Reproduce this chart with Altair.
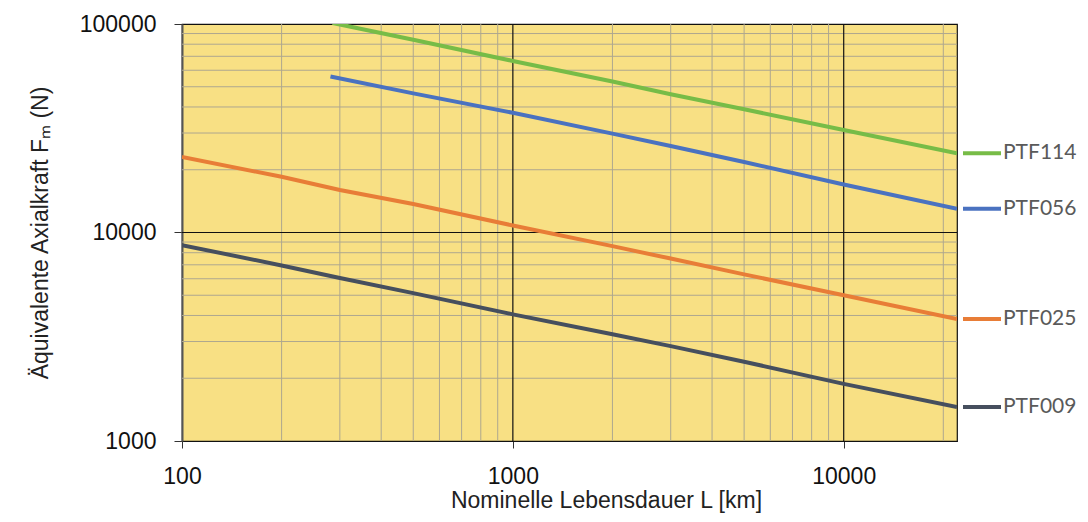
import altair as alt
import pandas as pd

# ---- data ----
series_names = ["PTF114", "PTF056", "PTF025", "PTF009"]
series_colors = ["#77BC47", "#4A72C0", "#E87D37", "#464F5E"]

L_114 = [285, 300, 500, 1000, 2000, 3000, 5000, 10000, 22000]
F_114 = [101000, 99500, 84000, 66500, 53000, 46000, 39000, 31000, 24000]

L_056 = [281, 500, 1000, 2000, 3000, 5000, 10000, 22000]
F_056 = [56000, 46500, 37500, 29800, 26000, 21800, 17000, 13000]

L_025 = [100, 200, 300, 500, 1000, 2000, 3000, 5000, 10000, 22000]
F_025 = [23000, 18500, 16000, 13700, 10800, 8600, 7500, 6300, 5000, 3850]

L_009 = [100, 200, 300, 500, 1000, 2000, 3000, 5000, 10000, 22000]
F_009 = [8700, 6950, 6050, 5120, 4050, 3250, 2850, 2400, 1880, 1455]

x_ticks = [100, 1000, 10000]
y_ticks = [1000, 10000, 100000]
x_minor = [200, 300, 400, 500, 600, 700, 800, 900,
           2000, 3000, 4000, 5000, 6000, 7000, 8000, 9000, 20000]
y_minor = [2000, 3000, 4000, 5000, 6000, 7000, 8000, 9000,
           20000, 30000, 40000, 50000, 60000, 70000, 80000, 90000]
x_major_grid = [1000, 10000]
y_major_grid = [10000]

x_domain = [100, 22000]
y_domain = [1000, 100000]

# ---- tables ----
rows = []
for name, Ls, Fs in zip(series_names, [L_114, L_056, L_025, L_009],
                        [F_114, F_056, F_025, F_009]):
    for l, f in zip(Ls, Fs):
        rows.append({"series": name, "L": l, "F": f})
df = pd.DataFrame(rows)
last = df.groupby("series", sort=False).tail(1).reset_index(drop=True)

W, H = 775, 417
xs = alt.Scale(type="log", domain=x_domain, nice=False)
ys = alt.Scale(type="log", domain=y_domain, nice=False)
cs = alt.Scale(domain=series_names, range=series_colors)

GRID = "#aea78f"

grid_minor_x = alt.Chart(pd.DataFrame({"L": x_minor})).mark_rule(
    color=GRID, strokeWidth=1).encode(x=alt.X("L:Q", scale=xs))
grid_minor_y = alt.Chart(pd.DataFrame({"F": y_minor})).mark_rule(
    color=GRID, strokeWidth=1).encode(y=alt.Y("F:Q", scale=ys))
grid_major_x = alt.Chart(pd.DataFrame({"L": x_major_grid})).mark_rule(
    color="#111111", strokeWidth=1.2).encode(x=alt.X("L:Q", scale=xs))
grid_major_y = alt.Chart(pd.DataFrame({"F": y_major_grid})).mark_rule(
    color="#111111", strokeWidth=1.2).encode(y=alt.Y("F:Q", scale=ys))

lines = alt.Chart(df).mark_line(strokeWidth=4, clip=True).encode(
    x=alt.X("L:Q", scale=xs, axis=alt.Axis(
        values=x_ticks, format="d", grid=False, labelFlush=False,
        title="Nominelle Lebensdauer L [km]",
        titleX=424, titleY=66, titleAlign="center", titleBaseline="alphabetic",
        tickSize=7, labelPadding=17, domainColor="#111111", tickColor="#333333")),
    y=alt.Y("F:Q", scale=ys, axis=alt.Axis(
        values=y_ticks, format="d", grid=False, labelFlush=False,
        title="Äquivalente Axialkraft Fₘ (N)",
        titleX=-135, titleY=H / 2, titleAlign="center", titleBaseline="alphabetic",
        tickSize=8, labelPadding=18, domainColor="#555555", domainWidth=2,
        tickColor="#333333")),
    color=alt.Color("series:N", scale=cs, legend=None),
    detail="series:N",
)

legend_lines = alt.Chart(last).mark_rule(
    strokeWidth=4, xOffset=6, x2Offset=44).encode(
    x=alt.X("L:Q", scale=xs),
    x2="L:Q",
    y=alt.Y("F:Q", scale=ys),
    color=alt.Color("series:N", scale=cs, legend=None),
)

legend_text = alt.Chart(last).mark_text(
    align="left", baseline="middle", dx=46, font="Lato", fontSize=21,
    color="#5a5a5a").encode(
    x=alt.X("L:Q", scale=xs),
    y=alt.Y("F:Q", scale=ys),
    text="series:N",
)

chart = alt.layer(
    grid_minor_x, grid_minor_y, grid_major_x, grid_major_y,
    lines, legend_lines, legend_text
).properties(
    width=W, height=H,
    autosize=alt.AutoSizeParams(type="none"),
    padding={"left": 174, "top": 16, "right": 122, "bottom": 73},
).configure_view(
    fill="#F8E084", stroke="#111111", strokeWidth=1.2
).configure_axis(
    labelFont="Liberation Sans", labelFontSize=23, labelColor="#111111",
    titleFont="Liberation Sans", titleFontSize=23, titleColor="#222222",
    titleFontWeight="normal",
)

chart.save("out.html", embed_options={"renderer": "svg", "actions": False})
